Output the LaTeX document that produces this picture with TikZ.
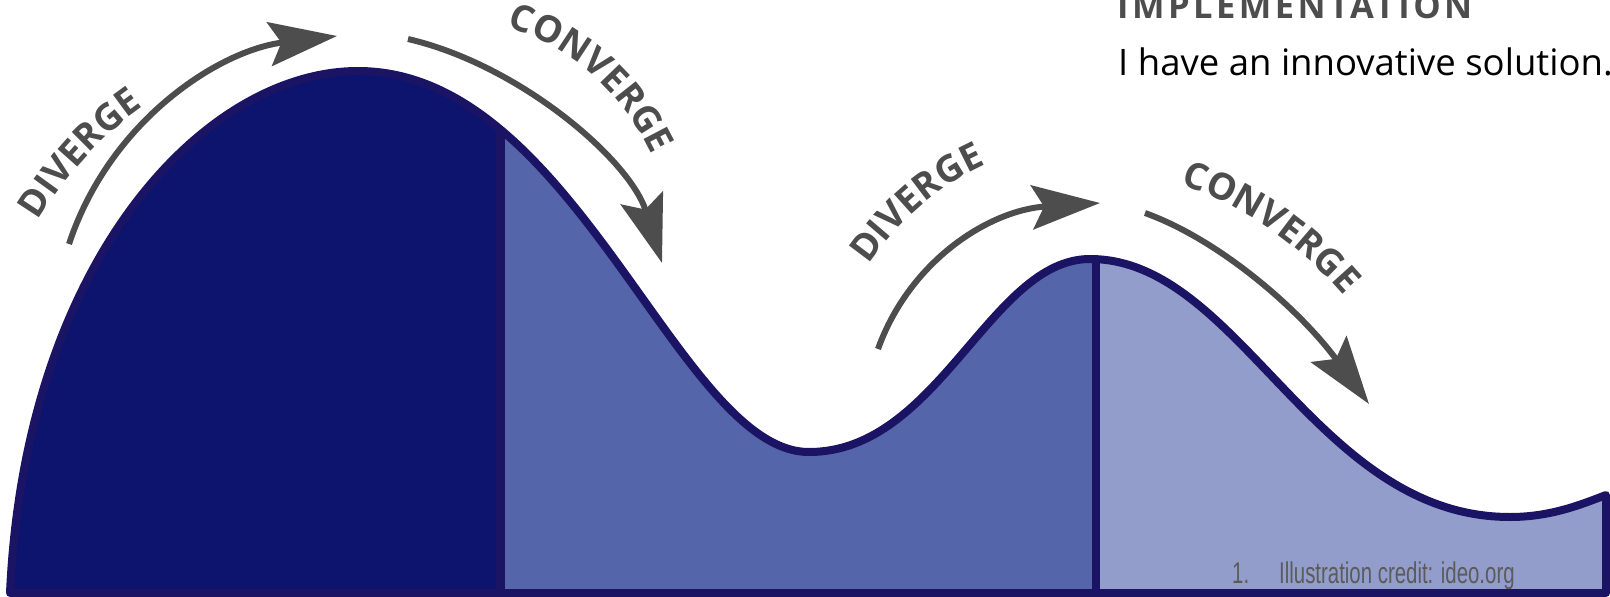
\documentclass[tikz,border=0pt]{standalone}
\usepackage{fontspec}
\usetikzlibrary{arrows.meta,decorations.text}
\newfontfamily\osans{Open Sans}
\newfontfamily\osansls{Open Sans}[LetterSpace=10]
\newfontfamily\libsans{Liberation Sans}
\definecolor{navy}{HTML}{1B1464}
\definecolor{fillA}{HTML}{0D146E}
\definecolor{fillB}{HTML}{5565A9}
\definecolor{fillC}{HTML}{939DCC}
\definecolor{arrowgray}{HTML}{4D4D4D}
\definecolor{creditgray}{HTML}{5B5B5B}
\newcommand\lblfont{\osans\bfseries\fontsize{37}{37}\selectfont\color{arrowgray}}
\tikzset{
  hillshape/.style={insert path={(10,593) .. controls (25,260) and (205,71) .. (358,71)
     .. controls (575,71) and (679,452) .. (809,452)
     .. controls (939,452) and (990,259) .. (1090,259)
     .. controls (1240,259) and (1315,517) .. (1510,517)
     .. controls (1550,517) and (1580,505) .. (1606,495)
     -- (1606,593) -- cycle}},
  outline/.style={draw=navy, line width=8pt, line join=round},
  arrowline/.style={draw=arrowgray, line width=6pt,
     -{Stealth[length=68pt, width=44pt, inset=12pt]}},
  lbl/.style={decorate, decoration={text along path, text align=center,
     text={|\lblfont|#1}}}
}
\begin{document}
\begin{tikzpicture}[x=1pt,y=-1pt]
\useasboundingbox (0,0) rectangle (1610,597);
\clip (0,0) rectangle (1610,597);
% fills
\fill[fillC, hillshape];
\begin{scope}
  \clip (0,0) rectangle (1096,700);
  \fill[fillB, hillshape];
\end{scope}
\begin{scope}
  \clip (0,0) rectangle (500,700);
  \fill[fillA, hillshape];
\end{scope}
% dividers
\begin{scope}
  \clip[hillshape];
  \coordinate (d1t) at (500,0);
  \coordinate (d1b) at (500,700);
  \coordinate (d2t) at (1096,0);
  \coordinate (d2b) at (1096,700);
  \draw[navy, line width=9pt] (d1t) -- (d1b);
  \draw[navy, line width=8pt] (d2t) -- (d2b);
\end{scope}
\path[outline, hillshape];
% arrows
\coordinate (a1s) at (69,244);  \coordinate (a1e) at (337,36);
\coordinate (a2s) at (408,39);  \coordinate (a2e) at (662,263);
\coordinate (a3s) at (878,349); \coordinate (a3e) at (1100,203);
\coordinate (a4s) at (1145,213);\coordinate (a4e) at (1369,404);
\draw[arrowline] (a1s) .. controls (110,120) and (220,50) .. (a1e);
\draw[arrowline] (a2s) .. controls (520,65) and (630,160) .. (a2e);
\draw[arrowline] (a3s) .. controls (910,260) and (990,210) .. (a3e);
\draw[arrowline] (a4s) .. controls (1220,240) and (1300,310) .. (a4e);
% labels along arcs
\path[lbl=DIVERGE] (27,240) .. controls (57,185) and (102,130) .. (162,95);
\path[lbl=CONVERGE] (505,26) .. controls (575,49) and (622,92) .. (653,157);
\path[lbl=DIVERGE] (862,275) .. controls (887,235) and (932,185) .. (997,160);
\path[lbl=CONVERGE] (1182,185) .. controls (1242,205) and (1300,245) .. (1343,295);
% top right texts
\node[anchor=base west, inner sep=0pt, text=arrowgray] (impl) at (1117,18)
  {\osansls\bfseries\fontsize{34.5}{34.5}\selectfont IMPLEMENTATION};
\node[anchor=base west, inner sep=0pt, text=black] (sol) at (1118,75)
  {\osans\fontsize{36.5}{36.5}\selectfont I have an innovative solution.};
% credit
\node[anchor=base west, inner sep=0pt, text=creditgray] (num) at (1232,583)
  {\scalebox{0.68}[1]{\libsans\fontsize{30}{30}\selectfont 1.}};
\node[anchor=base west, inner sep=0pt, text=creditgray] (credit) at (1279,583)
  {\scalebox{0.68}[1]{\libsans\fontsize{30}{30}\selectfont Illustration credit: ideo.org}};
\end{tikzpicture}
\end{document}
